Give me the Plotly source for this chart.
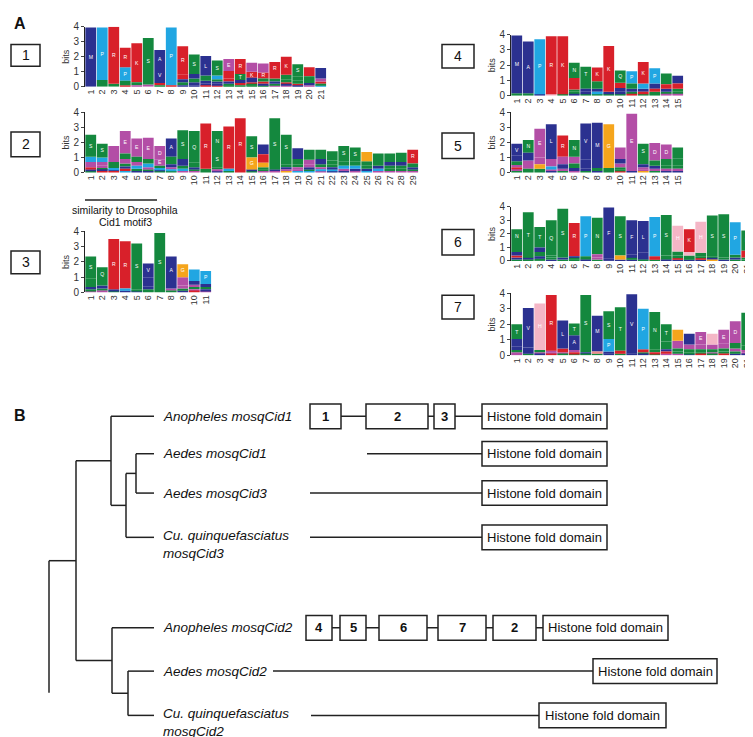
import plotly.graph_objects as go

W, H = 753, 737
FONT = "Liberation Sans, Arial, sans-serif"

# ---------------- sequence-logo data: each column lists letters top-first with bit heights ----------------
LOGO1 = ["M3.95", "P3.5 T0.45", "R3.8 T0.2", "R1.3 P0.9 N0.3 K0.1", "K2.6 N0.2 E0.1",
         "S3.1 E0.15", "A1.2 V1.0 K0.15 S0.1", "P3.85 K0.1", "R1.9 K0.3 V0.2 T0.2 A0.1",
         "S1.3 V0.3 T0.25 M0.2 A0.1", "L1.3 Q0.35 A0.2 M0.1 K0.1", "S1.0 P0.25 T0.15 M0.15 A0.1 K0.1",
         "E0.8 R0.5 K0.2 A0.15 S0.1 T0.1", "R1.0 T0.4 A0.2 K0.15 S0.1", "E0.6 K0.4 A0.3 R0.1 S0.1 T0.1",
         "E0.6 R0.4 S0.2 K0.15 A0.1 T0.1", "R0.8 K0.3 T0.2 A0.15 S0.1 E0.1", "K1.2 T0.3 S0.2 R0.1 A0.1 E0.1",
         "S0.8 T0.3 N0.2 K0.1 A0.1", "K0.6 S0.25 T0.2 A0.15 E0.1", "A0.7 E0.2 K0.15 S0.1 P0.1"]
LOGO2 = ["S1.45 P0.35 D0.2 E0.15 R0.15 A0.1 T0.1", "S0.9 P0.3 D0.25 E0.15 T0.1 A0.1 K0.1",
         "E0.6 D0.45 T0.2 S0.2 P0.1 A0.1 K0.1", "E1.5 S0.35 D0.3 T0.2 A0.15 K0.15 P0.1",
         "E1.2 S0.35 D0.25 P0.2 T0.15 A0.1", "E1.4 S0.3 P0.25 D0.15 T0.1 A0.1",
         "D0.9 E0.4 S0.15 P0.1 A0.1 T0.1", "A1.2 S0.5 V0.2 D0.15 P0.1 T0.1",
         "S1.9 A0.45 T0.2 P0.15 D0.1", "Q2.1 S0.3 A0.15 T0.1 D0.1", "R3.0 T0.15 S0.1",
         "N1.4 S1.0 T0.15 D0.1 A0.1", "R2.8 P0.15 S0.1", "R3.5 K0.1", "S1.4 G0.8 A0.1 T0.1",
         "A0.65 R0.55 G0.3 S0.15 T0.1 D0.1", "S3.4 A0.1 E0.1", "S1.6 N0.35 T0.2 A0.15 D0.1 G0.1",
         "A0.7 S0.35 T0.2 D0.15 E0.1 P0.1", "S0.65 D0.3 E0.2 A0.15 T0.1 P0.1",
         "S0.6 A0.35 T0.2 D0.15 P0.1 E0.1", "Q0.6 T0.25 S0.2 L0.15 P0.1 A0.1",
         "S1.0 T0.3 P0.2 D0.15 A0.1", "S0.9 T0.3 P0.2 A0.15 E0.1", "G0.6 T0.3 S0.2 A0.15 P0.1",
         "T0.55 S0.25 A0.2 P0.15 E0.1", "Q0.55 A0.25 S0.2 T0.15 E0.1", "N0.6 A0.25 S0.2 T0.15 E0.1",
         "R0.9 S0.25 A0.15 T0.1 E0.1"]
LOGO3 = ["S1.45 N0.35 Q0.2 A0.15 T0.1 D0.1", "Q0.9 S0.3 A0.2 T0.15 E0.1", "R3.3 A0.1 T0.1",
         "R3.1 P0.15 A0.1", "S3.0 N0.1 A0.1", "V0.9 L0.6 I0.2 S0.1 T0.1", "S3.9",
         "A1.8 V0.3 D0.15 S0.1", "G0.85 D0.55 E0.2 S0.15 A0.1", "P0.75 A0.25 D0.15 S0.15 E0.1 R0.1",
         "P0.85 A0.2 S0.15 V0.1 E0.1"]
LOGO4 = ["M3.8 N0.15", "A3.4 S0.15", "P3.6 A0.1", "R3.8 H0.1", "K3.8 T0.1",
         "N1.0 K0.75 T0.15 S0.15 A0.1", "T1.0 N0.45 I0.2 A0.15 S0.1", "K0.9 T0.5 A0.2 Y0.15 S0.1",
         "K3.0 A0.15 S0.1", "Q0.8 K0.35 X0.25 A0.15 S0.1", "P0.8 T0.35 A0.2 S0.15 K0.1",
         "K1.4 P0.35 A0.2 R0.15 S0.1", "P1.0 A0.35 R0.2 S0.15 T0.1", "T0.7 K0.3 A0.2 S0.15 E0.1",
         "A0.5 K0.35 S0.2 T0.15 E0.1"]
LOGO5 = ["V0.8 A0.35 N0.25 E0.15 R0.1 D0.15 T0.1", "N0.85 A0.5 E0.3 D0.25 S0.15 T0.1",
         "E1.9 D0.45 G0.3 N0.15 S0.1", "L2.3 E0.5 Y0.2 D0.1 A0.1", "R1.4 E0.5 A0.3 D0.15 S0.1",
         "N1.1 D0.45 S0.3 A0.2 E0.1", "V2.4 M0.35 X0.25 A0.15 S0.1", "M3.0 S0.2 A0.1", "G2.9 T0.2 S0.1",
         "D0.75 A0.3 E0.25 T0.15 S0.1 R0.1", "E3.6 D0.2 A0.1", "S1.0 T0.35 A0.2 E0.15 D0.1 G0.1",
         "D1.15 S0.35 A0.2 E0.15 T0.1", "D0.95 S0.45 T0.2 E0.15 A0.1", "S0.7 Q0.5 T0.2 E0.15 A0.1"]
LOGO6 = ["N1.1 S0.6 X0.25 K0.15 A0.15 T0.1", "T3.4 A0.1 S0.1", "T1.5 I0.35 N0.3 A0.2 S0.15",
         "Q2.6 S0.15 N0.15 A0.1", "S3.6 A0.15 T0.1", "R2.0 K0.45 X0.15 S0.1 T0.1",
         "P2.95 S0.15 T0.1 A0.1", "N2.7 E0.25 D0.15 S0.1", "F3.75 V0.2", "S2.9 G0.3 A0.1",
         "F2.5 X0.3 S0.1 A0.1", "L2.35 M0.4 A0.1 S0.1", "P2.9 K0.15 R0.1 S0.1", "S3.0 N0.2 T0.1 A0.1",
         "H1.9 S0.3 N0.2 K0.1 A0.1", "K1.7 H0.25 T0.2 S0.1 A0.1", "H2.3 S0.25 N0.15 K0.1 A0.1",
         "S3.0 T0.15 A0.1 G0.1", "S3.2 N0.15 A0.1", "P2.4 S0.2 A0.15 T0.1", "N1.5 R0.5 T0.15 S0.1"]
LOGO7 = ["T0.95 X0.5 A0.2 S0.15 D0.1 E0.1", "V2.55 A0.4 S0.1", "H3.0 S0.15 D0.1 A0.1",
         "R3.6 E0.1 D0.1 K0.1", "L1.8 K0.25 E0.1 S0.1", "T0.75 A0.95 E0.15 K0.1 S0.1",
         "S3.7 A0.1 T0.1", "M1.95 A0.35 C0.15 S0.1", "S1.8 P0.8 M0.15 A0.1", "T2.8 K0.2 S0.1",
         "V3.85 I0.1", "P2.6 K0.2 S0.1 A0.1", "N2.4 S0.2 K0.1 T0.1", "T1.1 S0.5 A0.15 K0.15 E0.1",
         "G0.7 D0.5 S0.2 T0.15 E0.1", "L0.7 E0.3 S0.2 T0.1 A0.1", "E0.8 D0.3 S0.2 T0.1 K0.1",
         "H0.7 E0.3 S0.2 D0.1 T0.1", "E0.9 D0.3 S0.2 T0.15 K0.1", "D1.4 S0.35 E0.2 T0.15 A0.1",
         "T2.1 S0.3 D0.15 E0.1 A0.1"]
LOGOS = [LOGO1, LOGO2, LOGO3, LOGO4, LOGO5, LOGO6, LOGO7]
MOTIF_LABELS = ["1", "2", "3", "4", "5", "6", "7"]

# ---------------- panel B data ----------------
LEAF_NAMES = ["Anopheles mosqCid1", "Aedes mosqCid1", "Aedes mosqCid3",
              "Cu. quinquefasciatus<br>mosqCid3", "Anopheles mosqCid2", "Aedes mosqCid2",
              "Cu. quinquefasciatus<br>mosqCid2"]
# tree topology (leaf indices) with node depths
TREE = (41, [(68, [(103, [0, (118, [(128, [1, 2]), 3])]), (104, [4, (120, [5, 6])])])])
TIP_X = 146
# domain architectures: (label, start, end); protein backbone start
ARCH_START = [302, 359, 302, 302, 298, 265, 303]
ARCH = [
    [("1", 302, 333), ("2", 358, 420), ("3", 426, 447), ("Histone fold domain", 474, 599)],
    [("Histone fold domain", 474, 599)],
    [("Histone fold domain", 474, 599)],
    [("Histone fold domain", 474, 599)],
    [("4", 298, 324), ("5", 332, 358), ("6", 371, 419), ("7", 430, 478), ("2", 485, 528),
     ("Histone fold domain", 535, 660)],
    [("Histone fold domain", 585, 709)],
    [("Histone fold domain", 531, 658)],
]

COLORS = {}
for aa in "AILMFVWX":
    COLORS[aa] = "#2b3190"
for aa in "KR":
    COLORS[aa] = "#d8202a"
for aa in "ED":
    COLORS[aa] = "#b34ea6"
for aa in "NQST":
    COLORS[aa] = "#14883e"
COLORS["G"] = "#f5a51c"
COLORS["P"] = "#21a6e2"
COLORS["Y"] = "#21a6e2"
COLORS["H"] = "#f4b6c6"
COLORS["C"] = "#ef8a8a"

# ---------------- layout geometry (pixels) ----------------
COLW = 11.5
LOGO_POS = [(77, 13, 74), (77, 100, 161), (77, 221, 283),
            (503, 21, 83), (503, 100, 161), (503, 196, 251), (503, 284, 347)]
MOTIF_BOX = [(3, 32, 31, 53), (3, 32, 120, 145), (3, 32, 241, 264),
             (434, 466, 31, 55), (434, 466, 121, 147), (434, 466, 219, 245), (434, 466, 286, 310)]
ROW_Y = [409, 447, 487, 532, 624, 668, 713]
BOX_H = 25

fig = go.Figure()
layout = dict(width=W, height=H, autosize=False, margin=dict(l=0, r=0, t=0, b=0),
              paper_bgcolor="white", plot_bgcolor="rgba(0,0,0,0)", barmode="overlay",
              showlegend=False, font=dict(family=FONT, color="#222"),
              uniformtext=dict(minsize=5, mode="hide"))

for i, (logo, (left, top, bottom)) in enumerate(zip(LOGOS, LOGO_POS), start=1):
    n = len(logo)
    groups = {}
    for j, col in enumerate(logo, start=1):
        toks = [(t[0], float(t[1:])) for t in col.split()]
        base = 0.0
        for aa, h in reversed(toks):
            g = groups.setdefault(aa, dict(x=[], y=[], base=[], text=[]))
            g["x"].append(j); g["y"].append(h); g["base"].append(base); g["text"].append(aa)
            base += h
    ax = "" if i == 1 else str(i)
    for aa, g in groups.items():
        fig.add_trace(go.Bar(x=g["x"], y=g["y"], base=g["base"], text=g["text"], width=0.94,
                             marker=dict(color=COLORS[aa], line=dict(width=0)),
                             textposition="inside", insidetextanchor="middle", textangle=0,
                             constraintext="inside",
                             textfont=dict(color="white", size=30, family="Liberation Sans, Arial"),
                             hoverinfo="skip", xaxis="x" + ax, yaxis="y" + ax))
    layout["xaxis" + ax] = dict(domain=[left / W, (left + n * COLW) / W], anchor="y" + ax,
                                range=[0.5, n + 0.5], tickmode="array",
                                tickvals=list(range(1, n + 1)),
                                ticktext=[str(k) for k in range(1, n + 1)],
                                tickangle=-90, tickfont=dict(size=9, color="#333"), ticks="",
                                showgrid=False, zeroline=False, showline=False, fixedrange=True)
    layout["yaxis" + ax] = dict(domain=[1 - bottom / H, 1 - top / H], anchor="x" + ax,
                                range=[0, 4], tickvals=[0, 1, 2, 3, 4], ticks="outside", ticklen=3,
                                tickfont=dict(size=10, color="#333"), showline=True,
                                linecolor="#222", linewidth=1, showgrid=False, zeroline=False,
                                title=dict(text="bits", font=dict(size=9, color="#333"), standoff=2),
                                fixedrange=True)

# background pixel-space axis for diagrams
layout["xaxis8"] = dict(domain=[0, 1], range=[0, W], visible=False, anchor="y8", fixedrange=True)
layout["yaxis8"] = dict(domain=[0, 1], range=[H, 0], visible=False, anchor="x8", fixedrange=True)

shapes, annotations = [], []
LINE = dict(color="#222", width=1.5)

def rect(x0, x1, y0, y1):
    shapes.append(dict(type="rect", xref="x8", yref="y8", x0=x0, x1=x1, y0=y0, y1=y1,
                       line=LINE, fillcolor="white", layer="above"))

def text(x, y, s, size, bold=False, anchor="center", italic=False):
    if bold:
        s = "<b>" + s + "</b>"
    if italic:
        s = "<i>" + s + "</i>"
    annotations.append(dict(x=x, y=y, xref="x8", yref="y8", text=s, showarrow=False,
                            xanchor=anchor, yanchor="middle", align="left",
                            font=dict(size=size, color="#111", family=FONT)))

# panel labels
text(12, 10, "A", 16, bold=True)
text(12, 408, "B", 16, bold=True)

# motif boxes of panel A
for lab, (x0, x1, y0, y1) in zip(MOTIF_LABELS, MOTIF_BOX):
    rect(x0, x1, y0, y1)
    text((x0 + x1) / 2, (y0 + y1) / 2, lab, 14)

# similarity annotation under logo 2
shapes.append(dict(type="line", xref="x8", yref="y8", x0=77, x1=149, y0=189, y1=189, line=LINE))
text(117, 199, "similarity to Drosophila", 10.5)
text(117, 211, "Cid1 motif3", 10.5)

# tree
tx, ty = [], []

def draw(node):
    if isinstance(node, int):
        return ROW_Y[node]
    x, kids = node
    ys = []
    for k in kids:
        yk = draw(k)
        kx = TIP_X if isinstance(k, int) else k[0]
        tx.extend([x, kx, None]); ty.extend([yk, yk, None])
        ys.append(yk)
    tx.extend([x, x, None]); ty.extend([min(ys), max(ys), None])
    return (min(ys) + max(ys)) / 2

root_x, root_kids = TREE
ymid = draw(root_kids[0])
tx.extend([root_x, root_kids[0][0], None]); ty.extend([ymid, ymid, None])
tx.extend([root_x, root_x, None]); ty.extend([ymid, 690, None])
fig.add_trace(go.Scatter(x=tx, y=ty, mode="lines", line=dict(color="#222", width=1.5),
                         hoverinfo="skip", xaxis="x8", yaxis="y8"))

for k, name in enumerate(LEAF_NAMES):
    y = ROW_Y[k] + (7 if "<br>" in name else 0)
    text(153, y, name, 13.5, italic=True, anchor="left")

# domain architectures
for k, doms in enumerate(ARCH):
    y = ROW_Y[k]
    end = doms[-1][1]
    shapes.append(dict(type="line", xref="x8", yref="y8", x0=ARCH_START[k], x1=end,
                       y0=y, y1=y, line=LINE, layer="above"))
    for lab, a, b in doms:
        rect(a, b, y - BOX_H / 2, y + BOX_H / 2)
        if lab.startswith("Histone"):
            text((a + b) / 2, y, lab, 13)
        else:
            text((a + b) / 2, y, lab, 13, bold=True)

layout["shapes"] = shapes
layout["annotations"] = annotations
fig.update_layout(**layout)
fig.write_html("out.html")
